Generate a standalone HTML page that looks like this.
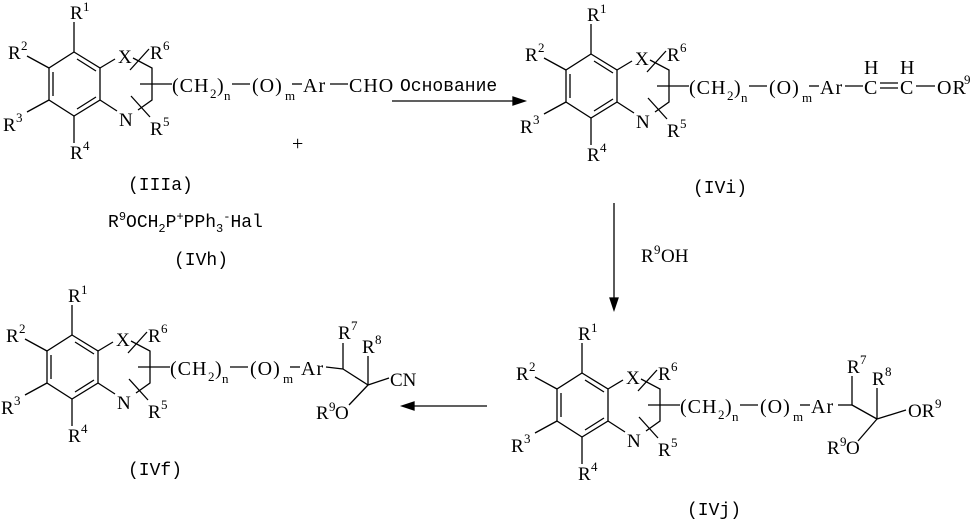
<!DOCTYPE html>
<html><head><meta charset="utf-8"><style>
html,body{margin:0;padding:0;background:#fff;}
svg{display:block;}
.s{font-family:"Liberation Serif",serif;font-size:19px;fill:#000;}
.c{font-family:"Liberation Serif",serif;font-size:20px;fill:#000;letter-spacing:1px;}
.sup{font-family:"Liberation Serif",serif;font-size:13px;fill:#000;}
.m{font-family:"Liberation Mono",monospace;font-size:18px;fill:#000;}
line,polyline,polygon{stroke:#000;stroke-width:1.3;fill:none;}
</style></head><body>
<svg width="975" height="527" viewBox="0 0 975 527" xmlns="http://www.w3.org/2000/svg">
<defs>
<g id="core">
  <polygon points="74,52 100,68 100,100 74,116 49,100 49,68"/>
  <line x1="53" y1="72" x2="53" y2="96"/>
  <line x1="77" y1="59" x2="96" y2="71"/>
  <line x1="77" y1="109" x2="96" y2="97"/>
  <line x1="74" y1="52" x2="74" y2="22"/>
  <line x1="49" y1="68" x2="27" y2="56"/>
  <line x1="49" y1="100" x2="27" y2="112"/>
  <line x1="74" y1="116" x2="74" y2="143"/>
  <line x1="100" y1="68" x2="115" y2="59"/>
  <line x1="100" y1="100" x2="117" y2="111"/>
  <polyline points="133,58 152,68 152,100 138,110"/>
  <line x1="130" y1="70" x2="149" y2="49"/>
  <line x1="131" y1="96" x2="150" y2="117"/>
  <line x1="140" y1="84" x2="172" y2="84"/>
  <text class="s" x="70" y="19">R</text><text class="sup" x="83" y="11">1</text>
  <text class="s" x="8" y="59">R</text><text class="sup" x="21" y="50">2</text>
  <text class="s" x="3" y="131">R</text><text class="sup" x="16" y="122">3</text>
  <text class="s" x="70" y="159">R</text><text class="sup" x="83" y="150">4</text>
  <text class="s" x="118" y="63">X</text>
  <text class="s" x="119" y="126">N</text>
  <text class="s" x="150" y="59">R</text><text class="sup" x="163" y="50">6</text>
  <text class="s" x="150" y="135">R</text><text class="sup" x="163" y="126">5</text>
  <text class="c" x="172" y="92">(CH</text><text class="sup" x="210" y="98">2</text><text class="c" x="217" y="92">)</text>
  <text class="sup" x="224" y="100">n</text>
  <line x1="232" y1="84" x2="250" y2="84"/>
  <text class="c" x="252" y="92">(O)</text>
  <text class="sup" x="285" y="100">m</text>
  <line x1="292" y1="84" x2="302" y2="84"/>
  <text class="c" x="303" y="92">Ar</text>
</g>
</defs>

<!-- IIIa -->
<use href="#core" x="0" y="0"/>
<line x1="330" y1="84" x2="348" y2="84"/>
<text class="c" x="349" y="92">CHO</text>
<text class="m" x="128" y="190">(IIIa)</text>
<text class="c" x="292" y="150">+</text>
<text class="m" x="108" y="227">R<tspan font-size="12" dy="-7">9</tspan><tspan dy="7">OCH</tspan><tspan font-size="12" dy="5">2</tspan><tspan dy="-5">P</tspan><tspan font-size="12" dy="-7">+</tspan><tspan dy="7">PPh</tspan><tspan font-size="12" dy="5">3</tspan><tspan font-size="12" dy="-12">-</tspan><tspan dy="7">Hal</tspan></text>
<text class="m" x="174" y="265">(IVh)</text>

<!-- reaction arrow -->
<text class="m" x="400" y="91">Основание</text>
<line x1="392" y1="101" x2="518" y2="101"/>
<polygon points="525,101 513,97 513,105" style="fill:#000"/>

<!-- IVi -->
<use href="#core" x="517" y="2"/>
<line x1="845" y1="86" x2="863" y2="86"/>
<text class="c" x="864" y="94">C</text>
<text class="c" x="864" y="74">H</text>
<line x1="880" y1="83" x2="898" y2="83"/>
<line x1="880" y1="88" x2="898" y2="88"/>
<text class="c" x="900" y="94">C</text>
<text class="c" x="900" y="74">H</text>
<line x1="916" y1="86" x2="935" y2="86"/>
<text class="c" x="937" y="94">OR</text><text class="sup" x="964" y="84">9</text>
<text class="m" x="693" y="193">(IVi)</text>

<!-- vertical arrow -->
<line x1="614" y1="203" x2="614" y2="302"/>
<polygon points="614,310 610,298 618,298" style="fill:#000"/>
<text class="s" x="641" y="262">R</text><text class="sup" x="654" y="254">9</text><text class="s" x="661" y="262">OH</text>

<!-- IVj -->
<use href="#core" x="508" y="321"/>
<line x1="838" y1="405" x2="852" y2="405"/>
<line x1="852" y1="405" x2="852" y2="376"/>
<text class="s" x="847" y="373">R</text><text class="sup" x="860" y="364">7</text>
<line x1="852" y1="405" x2="877" y2="419"/>
<line x1="877" y1="419" x2="877" y2="388"/>
<text class="s" x="872" y="385">R</text><text class="sup" x="885" y="376">8</text>
<line x1="877" y1="419" x2="906" y2="410"/>
<text class="s" x="908" y="417">OR</text><text class="sup" x="935" y="408">9</text>
<line x1="877" y1="419" x2="858" y2="441"/>
<text class="s" x="827" y="454">R</text><text class="sup" x="840" y="446">9</text><text class="s" x="846" y="454">O</text>
<text class="m" x="687" y="515">(IVj)</text>

<!-- left arrow -->
<line x1="487" y1="406" x2="410" y2="406"/>
<polygon points="402,406 414,402 414,410" style="fill:#000"/>

<!-- IVf -->
<use href="#core" x="-2" y="283"/>
<line x1="326" y1="367" x2="343" y2="369"/>
<line x1="343" y1="369" x2="343" y2="343"/>
<text class="s" x="338" y="339">R</text><text class="sup" x="351" y="330">7</text>
<line x1="343" y1="369" x2="368" y2="385"/>
<line x1="368" y1="385" x2="368" y2="356"/>
<text class="s" x="362" y="353">R</text><text class="sup" x="375" y="344">8</text>
<line x1="368" y1="385" x2="389" y2="378"/>
<text class="s" x="390" y="386">CN</text>
<line x1="368" y1="385" x2="349" y2="405"/>
<text class="s" x="316" y="419">R</text><text class="sup" x="329" y="411">9</text><text class="s" x="335" y="419">O</text>
<text class="m" x="128" y="475">(IVf)</text>
</svg>
</body></html>
